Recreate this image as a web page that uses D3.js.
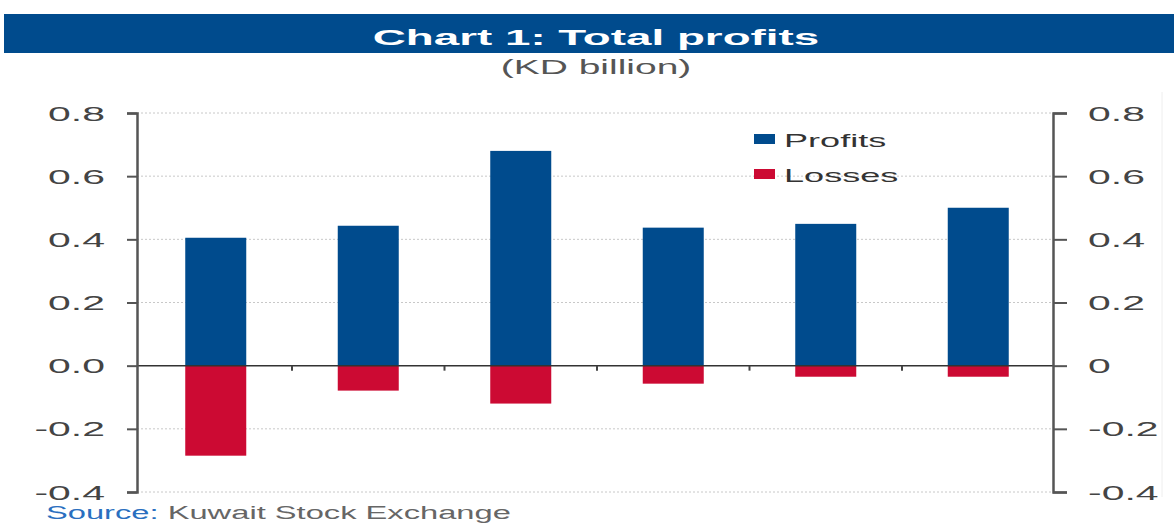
<!DOCTYPE html>
<html>
<head>
<meta charset="utf-8">
<script src="https://cdn.jsdelivr.net/npm/d3@7"></script>
<style>
  html, body { margin: 0; padding: 0; background: #fff; }
  svg { display: block; font-family: "Liberation Sans", Arial, sans-serif; }
</style>
</head>
<body>
<svg id="chart" width="1174" height="524"></svg>
<script>
// ---- Data ----
const categories = ["1", "2", "3", "4", "5", "6"];
const profits = [0.405, 0.443, 0.680, 0.437, 0.449, 0.500];
const losses  = [-0.285, -0.079, -0.120, -0.057, -0.035, -0.035];
const seriesNames = ["Profits", "Losses"];
const leftTickLabels  = ["-0.4", "-0.2", "0.0", "0.2", "0.4", "0.6", "0.8"];
const rightTickLabels = ["-0.4", "-0.2", "0", "0.2", "0.4", "0.6", "0.8"];
const tickValues = [-0.4, -0.2, 0, 0.2, 0.4, 0.6, 0.8];

(function () {
const blue = "#004b8d", red = "#cc0a33";
const svg = d3.select("#chart");

const pLeft = 137, pRight = 1053, pTop = 113, pBottom = 492;
const x = d3.scaleBand().domain(categories).range([pLeft + 2.5, pRight + 1.5]).paddingInner(0.6).paddingOuter(0.3);
const xOuter = d3.scaleBand().domain(categories).range([pLeft + 2.5, pRight + 1.5]);
const y = d3.scaleLinear().domain([-0.4, 0.8]).range([pBottom, pTop]);

function stretchedText(g, tx, ty, sx, txt, size, anchor, fill, weight) {
  return g.append("text")
    .attr("transform", `translate(${tx},${ty}) scale(${sx},1)`)
    .attr("text-anchor", anchor)
    .attr("font-size", size)
    .attr("font-weight", weight || "normal")
    .attr("fill", fill)
    .text(txt);
}

// ---- Title bar ----
svg.append("rect").attr("x", 4).attr("y", 14).attr("width", 1170).attr("height", 39).attr("fill", "#004b8d");
stretchedText(svg, 596, 45, 2.08, "Chart 1: Total profits", 22, "middle", "#fff", "bold");
stretchedText(svg, 596, 74, 2.0, "(KD billion)", 19.5, "middle", "#555");

// faint right border
svg.append("line").attr("x1", 1162).attr("x2", 1162).attr("y1", 92).attr("y2", 497)
  .attr("stroke", "#eee").attr("stroke-width", 1);

// ---- Gridlines ----
svg.append("g").selectAll("line").data(tickValues.filter(d => d !== 0)).join("line")
  .attr("x1", pLeft).attr("x2", pRight)
  .attr("y1", d => y(d)).attr("y2", d => y(d))
  .attr("stroke", "#c8c8c8").attr("stroke-width", 1).attr("stroke-dasharray", "2,2");

// ---- Bars ----
svg.append("g").selectAll("rect").data(profits).join("rect")
  .attr("x", (d, i) => x(categories[i]))
  .attr("width", x.bandwidth())
  .attr("y", d => y(d))
  .attr("height", d => y(0) - y(d))
  .attr("fill", blue);
svg.append("g").selectAll("rect").data(losses).join("rect")
  .attr("x", (d, i) => x(categories[i]))
  .attr("width", x.bandwidth())
  .attr("y", y(0))
  .attr("height", d => y(d) - y(0))
  .attr("fill", red);

// ---- Zero line with category ticks ----
svg.append("line").attr("x1", pLeft).attr("x2", pRight).attr("y1", y(0)).attr("y2", y(0))
  .attr("stroke", "#333").attr("stroke-width", 1.5);
svg.append("g").selectAll("line").data(categories.slice(1)).join("line")
  .attr("x1", d => xOuter(d)).attr("x2", d => xOuter(d))
  .attr("y1", y(0)).attr("y2", y(0) + 5)
  .attr("stroke", "#444").attr("stroke-width", 2);

// ---- Axes ----
const sxTick = 2.1;
const axL = svg.append("g").attr("transform", `translate(${pLeft},0)`)
  .call(d3.axisLeft(y).tickValues(tickValues).tickSize(10).tickSizeOuter(10)
    .tickFormat((d, i) => leftTickLabels[i]));
const axR = svg.append("g").attr("transform", `translate(${pRight},0)`)
  .call(d3.axisRight(y).tickValues(tickValues).tickSize(14).tickSizeOuter(14)
    .tickFormat((d, i) => rightTickLabels[i]));
[axL, axR].forEach(ax => {
  ax.select(".domain").attr("stroke", "#555").attr("stroke-width", 2.5);
  ax.selectAll(".tick line").attr("stroke", "#555").attr("stroke-width", 2);
  ax.selectAll(".tick text")
    .attr("font-size", 19.5)
    .attr("font-family", "'Liberation Sans', Arial, sans-serif")
    .attr("fill", "#444")
    .attr("dy", "0.36em");
});
axL.selectAll(".tick text").attr("x", -32 / sxTick).attr("transform", `scale(${sxTick},1)`);
axR.selectAll(".tick text").attr("x", 35 / sxTick).attr("transform", `scale(${sxTick},1)`);

// ---- Legend ----
const lg = svg.append("g");
const legendColors = [blue, red];
seriesNames.forEach((name, i) => {
  const yy = 134 + i * 35;
  lg.append("rect").attr("x", 754).attr("y", yy).attr("width", 21).attr("height", 10).attr("fill", legendColors[i]);
  stretchedText(lg, 784, yy + 13, 1.9, name, 19, "start", "#333");
});

// ---- Source ----
const src = svg.append("text")
  .attr("transform", "translate(46,519) scale(1.72,1)")
  .attr("font-size", 19);
src.append("tspan").attr("fill", "#2a6fbf").text("Source:");
src.append("tspan").attr("fill", "#666").text(" Kuwait Stock Exchange");
})();
</script>
</body>
</html>
